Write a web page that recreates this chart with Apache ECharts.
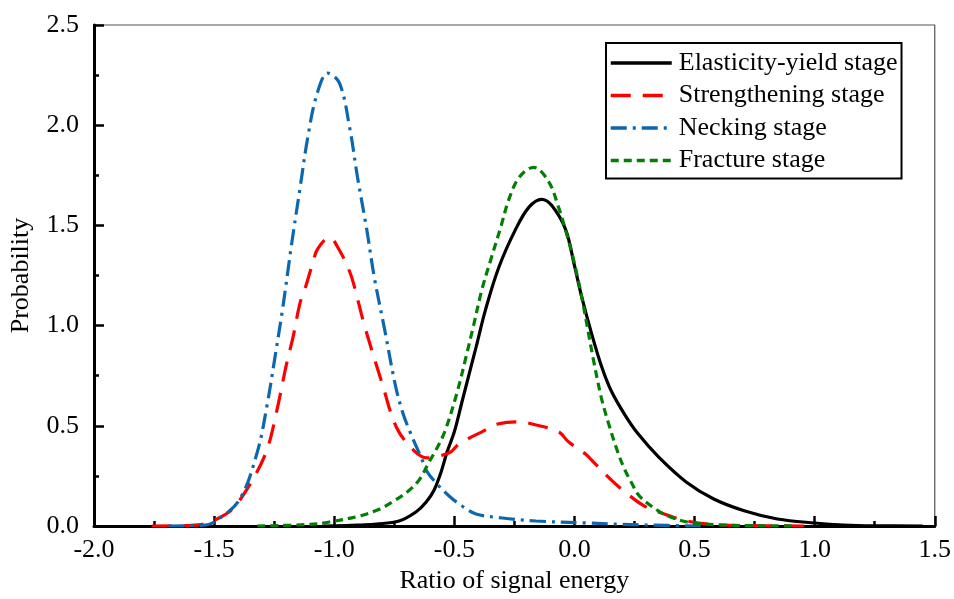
<!DOCTYPE html>
<html>
<head>
<meta charset="utf-8">
<script src="https://cdn.jsdelivr.net/npm/echarts@6/dist/echarts.min.js"></script>
<style>html,body{margin:0;padding:0;background:#fff}#c{width:954px;height:599px}</style>
</head>
<body>
<div id="c"></div>
<script>
const seriesNames = ['Elasticity-yield stage', 'Strengthening stage', 'Necking stage', 'Fracture stage'];
const xTicks = { min: -2.0, max: 1.5, step: 0.5 };
const yTicks = { min: 0, max: 2.5, step: 0.5 };

const elasticity = [[-1.05,0],[-0.95,0.002],[-0.895,0.005],[-0.824,0.01],[-0.73,0.025],[-0.66,0.07],[-0.617,0.12],[-0.584,0.18],[-0.555,0.27],[-0.53,0.37],[-0.50,0.47],[-0.468,0.62],[-0.41,0.89],[-0.37,1.08],[-0.315,1.29],[-0.245,1.48],[-0.19,1.59],[-0.137,1.63],[-0.095,1.60],[-0.037,1.48],[0.0,1.30],[0.029,1.15],[0.07,0.966],[0.112,0.80],[0.153,0.675],[0.21,0.555],[0.265,0.46],[0.35,0.345],[0.465,0.22],[0.58,0.135],[0.71,0.075],[0.845,0.035],[1.0,0.015],[1.12,0.005],[1.25,0.001],[1.45,0]];
const strengthening = [[-1.76,0],[-1.6,0.003],[-1.545,0.01],[-1.48,0.04],[-1.42,0.09],[-1.34,0.23],[-1.28,0.38],[-1.24,0.57],[-1.2,0.80],[-1.17,0.95],[-1.143,1.11],[-1.12,1.19],[-1.09,1.31],[-1.07,1.38],[-1.02,1.44],[-0.98,1.38],[-0.936,1.27],[-0.915,1.19],[-0.874,1.0],[-0.80,0.71],[-0.74,0.49],[-0.667,0.375],[-0.613,0.34],[-0.56,0.35],[-0.514,0.37],[-0.48,0.41],[-0.385,0.47],[-0.315,0.51],[-0.23,0.52],[-0.18,0.51],[-0.066,0.47],[-0.025,0.42],[0.045,0.36],[0.087,0.31],[0.153,0.23],[0.21,0.17],[0.29,0.10],[0.35,0.07],[0.47,0.025],[0.61,0.005],[0.8,0.001],[0.98,0]];
const necking = [[-1.69,0],[-1.55,0.003],[-1.5,0.02],[-1.395,0.13],[-1.32,0.37],[-1.28,0.60],[-1.247,0.84],[-1.214,1.09],[-1.177,1.41],[-1.143,1.68],[-1.11,1.94],[-1.073,2.15],[-1.027,2.26],[-0.978,2.21],[-0.936,1.99],[-0.903,1.74],[-0.866,1.49],[-0.833,1.24],[-0.79,0.98],[-0.745,0.70],[-0.716,0.57],[-0.688,0.48],[-0.634,0.33],[-0.613,0.27],[-0.572,0.21],[-0.522,0.15],[-0.468,0.10],[-0.41,0.06],[-0.30,0.04],[-0.16,0.025],[0.05,0.015],[0.3,0.005],[0.53,0]];
const fracture = [[-1.32,0],[-1.1,0.008],[-1.02,0.02],[-0.895,0.05],[-0.81,0.085],[-0.758,0.12],[-0.696,0.17],[-0.646,0.23],[-0.605,0.32],[-0.576,0.38],[-0.54,0.47],[-0.49,0.66],[-0.45,0.85],[-0.42,1.0],[-0.385,1.18],[-0.348,1.33],[-0.307,1.49],[-0.273,1.63],[-0.23,1.74],[-0.17,1.79],[-0.108,1.72],[-0.066,1.59],[-0.033,1.46],[-0.004,1.33],[0.029,1.15],[0.079,0.83],[0.112,0.64],[0.14,0.52],[0.18,0.37],[0.21,0.28],[0.236,0.22],[0.27,0.15],[0.35,0.075],[0.40,0.045],[0.47,0.02],[0.61,0.005],[0.92,0]];

const FONT = 'Liberation Serif';
const styles = [
  { color: '#000000', type: 'solid' },
  { color: '#ff0000', type: [20, 12] },
  { color: '#0a67b0', type: [16, 6, 3, 6] },
  { color: '#008000', type: [8, 5] }
];
const datasets = [elasticity, strengthening, necking, fracture];

const chart = echarts.init(document.getElementById('c'), null, { renderer: 'canvas' });
const axisCommon = {
  axisLine: { show: true, onZero: false, lineStyle: { color: '#000', width: 3 } },
  axisTick: { show: true, inside: true, length: 10, lineStyle: { color: '#000', width: 2.5 } },
  minorTick: { show: true, splitNumber: 2, length: 5, lineStyle: { color: '#000', width: 2.5 } },
  splitLine: { show: false },
  axisLabel: { color: '#000', fontFamily: FONT, fontSize: 26, formatter: v => v.toFixed(1) },
  nameTextStyle: { color: '#000', fontFamily: FONT, fontSize: 26 }
};
chart.setOption({
  animation: false,
  backgroundColor: '#fff',
  grid: { left: 93, right: 17, top: 25, bottom: 72, show: true, borderColor: '#555', borderWidth: 1.2 },
  xAxis: Object.assign({}, axisCommon, {
    type: 'value', min: xTicks.min, max: xTicks.max, interval: xTicks.step,
    name: 'Ratio of signal energy', nameLocation: 'middle', nameGap: 42,
    axisLabel: Object.assign({}, axisCommon.axisLabel, { margin: 11 })
  }),
  yAxis: Object.assign({}, axisCommon, {
    type: 'value', min: yTicks.min, max: yTicks.max, interval: yTicks.step,
    name: 'Probability', nameLocation: 'middle', nameGap: 60,
    axisLabel: Object.assign({}, axisCommon.axisLabel, { margin: 15 })
  }),
  legend: {
    orient: 'vertical', left: 606, top: 43,
    padding: [7, 4, 5, 3], itemGap: 6.5, itemWidth: 61, itemHeight: 14,
    borderColor: '#000', borderWidth: 2, backgroundColor: '#fff',
    itemStyle: { opacity: 0 },
    lineStyle: { width: 3.5 },
    textStyle: { color: '#000', fontFamily: FONT, fontSize: 26, lineHeight: 26, padding: [0, 0, 0, 2] },
    data: seriesNames
  },
  series: datasets.map((d, i) => ({
    name: seriesNames[i], type: 'line', data: d, showSymbol: false, symbol: 'none',
    smooth: 0.35, clip: true,
    lineStyle: { color: styles[i].color, width: 3.2, type: styles[i].type },
    itemStyle: { color: styles[i].color }
  }))
});
</script>
</body>
</html>
